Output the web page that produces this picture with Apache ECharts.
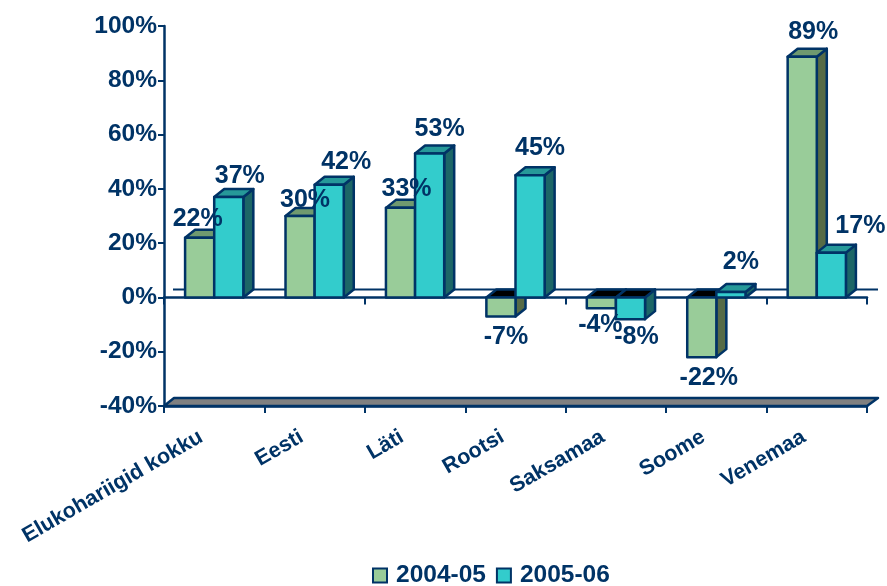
<!DOCTYPE html>
<html><head><meta charset="utf-8">
<style>html,body{margin:0;padding:0;background:#fff}#c{width:887px;height:586px}</style>
<script src="https://cdn.jsdelivr.net/npm/echarts@6/dist/echarts.min.js"></script>
</head><body><div id="c"></div>
<script>
const categories = ['Elukohariigid kokku','Eesti','Läti','Rootsi','Saksamaa','Soome','Venemaa'];
const values0405 = [22,30,33,-7,-4,-22,88.7];
const values0506 = [37,41.5,53,45,-8,2,16.5];
const seriesNames = ['2004-05','2005-06'];

// styling & label nudges (px), kept apart from the data
const NAVY='#003366';
const DX=10, DY=8;
const nudge0405=[[-2,2],[5,5],[6,2],[5,0],[-1,-4],[7,0],[11,-4]];
const nudge0506=[[11,0],[17,-2],[10,-3],[10,-6],[6,-3],[10,-9],[29,-6]];
const skins=[
 {front:'#99CC99',top:'#6F9A6F',side:'#566B46',nudge:nudge0405,shift:-1},
 {front:'#33CCCC',top:'#269999',side:'#1C6666',nudge:nudge0506,shift:0}
];
const FAMILY='"Liberation Sans", Arial, sans-serif';
const FONT='bold 25px '+FAMILY;
const LW=2.5;
const lineStyle={stroke:NAVY,lineWidth:LW,lineJoin:'round'};

function barRender(skin){
  return function(params,api){
    const i=api.value(0), v=api.value(1);
    const c=api.coord([i,v]), z=api.coord([i,0]);
    const w=api.size([1,0])[0]*0.29;
    const x0=c[0]+skin.shift*w, x1=x0+w;
    const top=Math.min(c[1],z[1]), bot=Math.max(c[1],z[1]);
    const shape=(pts,fill)=>({type:'polygon',shape:{points:pts},style:Object.assign({fill:fill},lineStyle)});
    const children=[
      shape([[x1,top],[x1+DX,top-DY],[x1+DX,bot-DY],[x1,bot]],skin.side),
      shape([[x0,top],[x0+DX,top-DY],[x1+DX,top-DY],[x1,top]],v<0?'#000000':skin.top),
      shape([[x0,top],[x1,top],[x1,bot],[x0,bot]],skin.front)
    ];
    const n=skin.nudge[i];
    const ly=v>=0?c[1]-21:c[1]+21;
    children.push({type:'text',z2:100,style:{text:Math.round(v)+'%',x:(x0+x1)/2+n[0],y:ly+n[1],
      align:'center',verticalAlign:'middle',fill:NAVY,font:FONT}});
    return {type:'group',children:children};
  };
}
function backRender(params,api){
  const cs=params.coordSys;
  const y0=api.coord([0,0])[1], yb=cs.y+cs.height, xl=cs.x, xr=cs.x+cs.width;
  return {type:'group',children:[
    {type:'polygon',shape:{points:[[xl,yb],[xl+DX,yb-DY],[xr+DX+1,yb-DY],[xr,yb]]},style:Object.assign({fill:'#808080'},lineStyle)},
    {type:'line',shape:{x1:xl+9,y1:y0-DY,x2:xr+11,y2:y0-DY},style:{stroke:NAVY,lineWidth:2}}
  ]};
}
const axisTickBase={show:true,length:7,lineStyle:{color:NAVY,width:2}};
const chart=echarts.init(document.getElementById('c'),null,{renderer:'canvas'});
chart.setOption({
  animation:false,
  backgroundColor:'#fff',
  textStyle:{fontFamily:FAMILY},
  grid:{left:164,right:20,top:26,bottom:180,containLabel:false},
  legend:{
    top:558,left:367,itemWidth:14,itemHeight:14,itemGap:10,
    textStyle:{color:NAVY,fontWeight:'bold',fontSize:24.5,fontFamily:FAMILY,padding:[0,0,0,4]},
    data:[
      {name:seriesNames[0],icon:'rect',itemStyle:{color:skins[0].front,borderColor:NAVY,borderWidth:2}},
      {name:seriesNames[1],icon:'rect',itemStyle:{color:skins[1].front,borderColor:NAVY,borderWidth:2}}
    ]
  },
  xAxis:[
    {type:'category',data:categories,position:'bottom',
     axisLine:{onZero:true,lineStyle:{color:NAVY,width:LW}},axisTick:axisTickBase,axisLabel:{show:false},splitLine:{show:false}},
    {type:'category',data:categories,position:'bottom',
     axisLine:{onZero:false,lineStyle:{color:NAVY,width:LW}},axisTick:axisTickBase,
     axisLabel:{show:true,interval:0,rotate:30,margin:22,color:NAVY,fontWeight:'bold',fontSize:21.5,padding:[0,15,0,0],
       fontFamily:FAMILY},splitLine:{show:false}}
  ],
  yAxis:{type:'value',min:-40,max:100,interval:20,
    axisLine:{show:true,onZero:false,lineStyle:{color:NAVY,width:LW}},
    axisTick:{show:true,length:6,lineStyle:{color:NAVY,width:2}},
    axisLabel:{margin:7,color:NAVY,fontWeight:'bold',fontSize:24.5,formatter:'{value}%',
      fontFamily:FAMILY},
    splitLine:{show:false}},
  series:[
    {type:'custom',silent:true,renderItem:backRender,data:[[0,0]],encode:{x:0,y:1},z:1},
    {type:'custom',name:seriesNames[0],silent:true,renderItem:barRender(skins[0]),
     itemStyle:{color:skins[0].front},encode:{x:0,y:1},z:2,
     data:values0405.map((v,i)=>[i,v])},
    {type:'custom',name:seriesNames[1],silent:true,renderItem:barRender(skins[1]),
     itemStyle:{color:skins[1].front},encode:{x:0,y:1},z:2,
     data:values0506.map((v,i)=>[i,v])}
  ]
});
</script></body></html>
